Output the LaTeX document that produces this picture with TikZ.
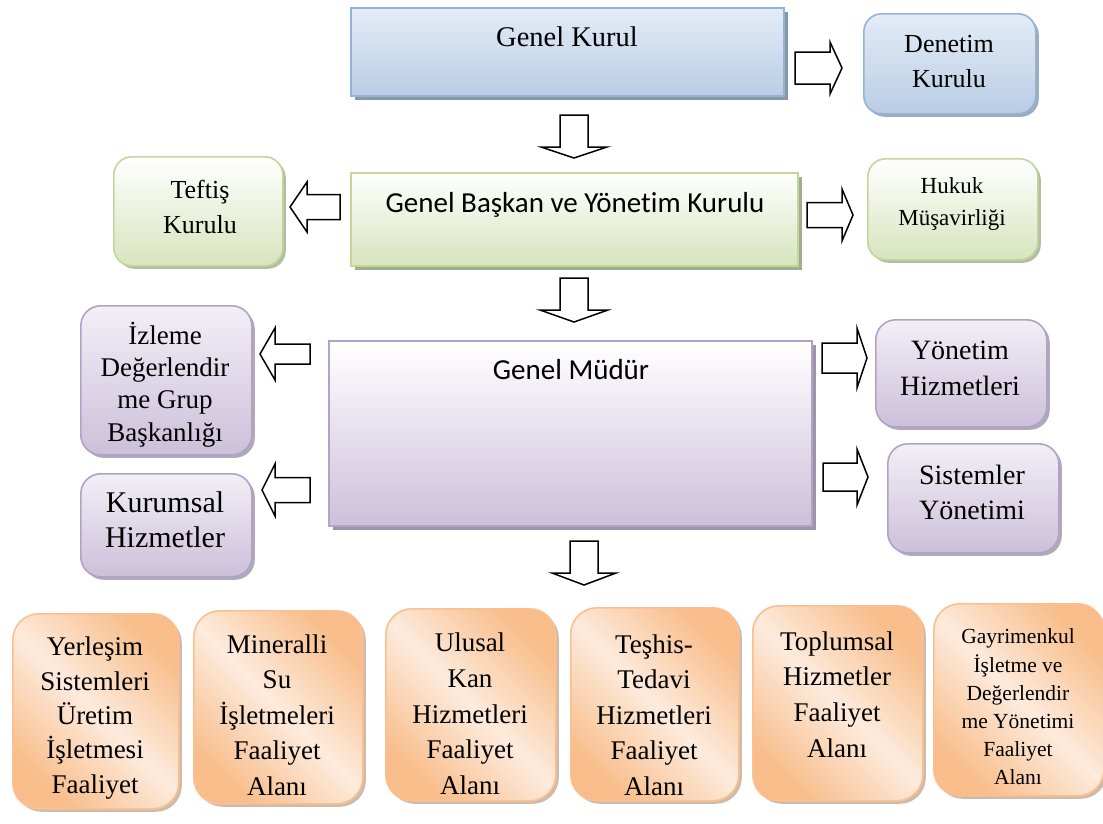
\documentclass[tikz,border=0pt]{standalone}
\usepackage{fontspec}
\setmainfont{Liberation Serif}
\newfontfamily\calfont[Ligatures=CommonOff]{Carlito}
\usetikzlibrary{shadows}
\definecolor{bluebd}{HTML}{95B3D7}
\definecolor{bluefill}{HTML}{B9CDE5}
\definecolor{bluetop}{HTML}{E4ECF6}
\definecolor{blueshadow}{HTML}{8797AE}
\definecolor{greenbd}{HTML}{C3D69B}
\definecolor{greenfill}{HTML}{D7E4BD}
\definecolor{greenshadow}{HTML}{A2AC8E}
\definecolor{purplebd}{HTML}{B3A2C7}
\definecolor{purplefill}{HTML}{CCC0DA}
\definecolor{purpletop}{HTML}{F2EFF6}
\definecolor{purpleshadow}{HTML}{9C94A7}
\definecolor{orangebd}{HTML}{FAC090}
\definecolor{orangefill}{HTML}{F8BD8A}
\definecolor{orangelight}{HTML}{FDEBDD}
\definecolor{orangeshadow}{HTML}{C4AB98}
\newcommand\fs[2]{\fontsize{#1}{#2}\selectfont}
\tikzset{
  x=1pt, y=-1pt,
  boxbase/.style={draw, line width=1.6pt, inner sep=0pt, anchor=north west},
  bluerect/.style={boxbase, draw=bluebd, top color=bluetop, bottom color=bluefill,
     drop shadow={shadow xshift=4pt, shadow yshift=-4pt, fill=blueshadow, opacity=1}},
  bluerbox/.style={boxbase, rounded corners=18pt, draw=bluebd, top color=bluetop, bottom color=bluefill,
     drop shadow={shadow xshift=3pt, shadow yshift=-3pt, fill=blueshadow, opacity=0.8}},
  greenrect/.style={boxbase, draw=greenbd, top color=white, bottom color=greenfill,
     drop shadow={shadow xshift=4pt, shadow yshift=-4pt, fill=greenshadow, opacity=1}},
  greenrbox/.style={boxbase, rounded corners=18pt, draw=greenbd, top color=white, bottom color=greenfill,
     drop shadow={shadow xshift=3pt, shadow yshift=-3pt, fill=greenshadow, opacity=0.8}},
  purplerect/.style={boxbase, draw=purplebd, top color=white, bottom color=purplefill,
     drop shadow={shadow xshift=4pt, shadow yshift=-4pt, fill=purpleshadow, opacity=1}},
  purplerbox/.style={boxbase, rounded corners=20pt, draw=purplebd, top color=purpletop, bottom color=purplefill,
     drop shadow={shadow xshift=3pt, shadow yshift=-3pt, fill=purpleshadow, opacity=0.8}},
  orangerbox/.style={boxbase, rounded corners=26pt, draw=orangebd, top color=orangefill,
     bottom color=orangefill, middle color=orangelight, shading angle=-45,
     drop shadow={shadow xshift=3pt, shadow yshift=-3pt, fill=orangeshadow, opacity=0.8}},
  txt/.style={align=center, inner sep=0pt},
  arrowline/.style={draw=black, fill=white, line width=1.5pt, line join=miter},
  pics/barrow/.style n args={4}{code={
     \draw[arrowline] (0,-#3) -- (#1,-#3) -- (#1,-#4) -- (#2,0) -- (#1,#4) -- (#1,#3) -- (0,#3) -- cycle;}},
}
\begin{document}
\begin{tikzpicture}
\useasboundingbox[fill=white] (0,0) rectangle (1103,823);

% top level
\node[bluerect, minimum width=433pt, minimum height=88pt] (gk) at (350,7) {};
\node[txt, font=\fs{28.5}{34}] (gkt) at (567,37) {Genel Kurul};
\node[bluerbox, minimum width=172pt, minimum height=100pt] (dk) at (863,13) {};
\node[txt, font=\fs{26}{35}] (dkt) at (949,61.5) {Denetim\\Kurulu};

% second level
\node[greenrect, minimum width=447pt, minimum height=93pt] (gb) at (350,172) {};
\node[txt, font=\calfont\fs{29}{34}] (gbt) at (575,205) {Genel Başkan ve Yönetim Kurulu};
\node[greenrbox, minimum width=169pt, minimum height=109pt] (tk) at (113,156) {};
\node[txt, font=\fs{26}{35}] (tkt) at (200,207) {Teftiş\\Kurulu};
\node[greenrbox, minimum width=170pt, minimum height=101pt] (hm) at (867,158) {};
\node[txt, font=\fs{23}{32}] (hmt) at (952,203.5) {Hukuk\\Müşavirliği};

% third level
\node[purplerect, minimum width=483pt, minimum height=185pt] (gm) at (328,340) {};
\node[txt, font=\calfont\fs{29}{34}] (gmt) at (571,370) {Genel Müdür};
\node[purplerbox, minimum width=171pt, minimum height=149pt] (iz) at (80,305) {};
\node[txt, font=\fs{27}{32.3}] (izt) at (165,384.5) {İzleme\\Değerlendir\\me Grup\\Başkanlığı};
\node[purplerbox, minimum width=171pt, minimum height=103pt] (kh) at (80,473) {};
\node[txt, font=\fs{30}{35}] (kht) at (165,519.5) {Kurumsal\\Hizmetler};
\node[purplerbox, minimum width=171pt, minimum height=107pt] (yh) at (875,319) {};
\node[txt, font=\fs{28}{36}] (yht) at (960,368) {Yönetim\\Hizmetleri};
\node[purplerbox, minimum width=171pt, minimum height=109pt] (sy) at (887,443) {};
\node[txt, font=\fs{28}{35}] (syt) at (972,492.5) {Sistemler\\Yönetimi};

% bottom level
\node[orangerbox, minimum width=166pt, minimum height=195pt] (b1) at (12,613) {};
\node[txt, font=\fs{27}{34.3}] (b1t) at (95,718) {Yerleşim\\Sistemleri\\Üretim\\İşletmesi\\Faaliyet};
\node[orangerbox, minimum width=169pt, minimum height=193pt] (b2) at (193,610) {};
\node[txt, font=\fs{27}{35.5}] (b2t) at (277,715) {Mineralli\\Su\\İşletmeleri\\Faaliyet\\Alanı};
\node[orangerbox, minimum width=170pt, minimum height=192pt] (b3) at (385,608) {};
\node[txt, font=\fs{27}{35.7}] (b3t) at (470,714) {Ulusal\\Kan\\Hizmetleri\\Faaliyet\\Alanı};
\node[orangerbox, minimum width=168pt, minimum height=193pt] (b4) at (570,607) {};
\node[txt, font=\fs{27}{35.5}] (b4t) at (654,715) {Teşhis-\\Tedavi\\Hizmetleri\\Faaliyet\\Alanı};
\node[orangerbox, minimum width=170pt, minimum height=195pt] (b5) at (752,605) {};
\node[txt, font=\fs{27}{35.7}] (b5t) at (837,694.5) {Toplumsal\\Hizmetler\\Faaliyet\\Alanı};
\node[orangerbox, minimum width=170pt, minimum height=192pt] (b6) at (933,603) {};
\node[txt, font=\fs{21.5}{28.2}] (b6t) at (1018,707) {Gayrimenkul\\İşletme ve\\Değerlendir\\me Yönetimi\\Faaliyet\\Alanı};

% block arrows
\pic at (795,68) {barrow={35}{47}{16}{26}};
\pic[rotate=-90] at (574,115) {barrow={32}{43}{14}{33}};
\pic[rotate=180] at (340,207) {barrow={33}{50}{12.5}{25}};
\pic at (807,215) {barrow={35}{46}{12.5}{26}};
\pic[rotate=-90] at (574,278) {barrow={32}{44}{14}{34}};
\pic[rotate=180] at (310,354) {barrow={35}{50}{10}{26}};
\pic[rotate=180] at (310,490) {barrow={35}{48}{12.5}{26}};
\pic at (822,358) {barrow={35}{45}{15}{30}};
\pic at (823,477) {barrow={34}{45}{14}{28}};
\pic[rotate=-90] at (584,541) {barrow={32}{44}{14}{32}};
\end{tikzpicture}
\end{document}
